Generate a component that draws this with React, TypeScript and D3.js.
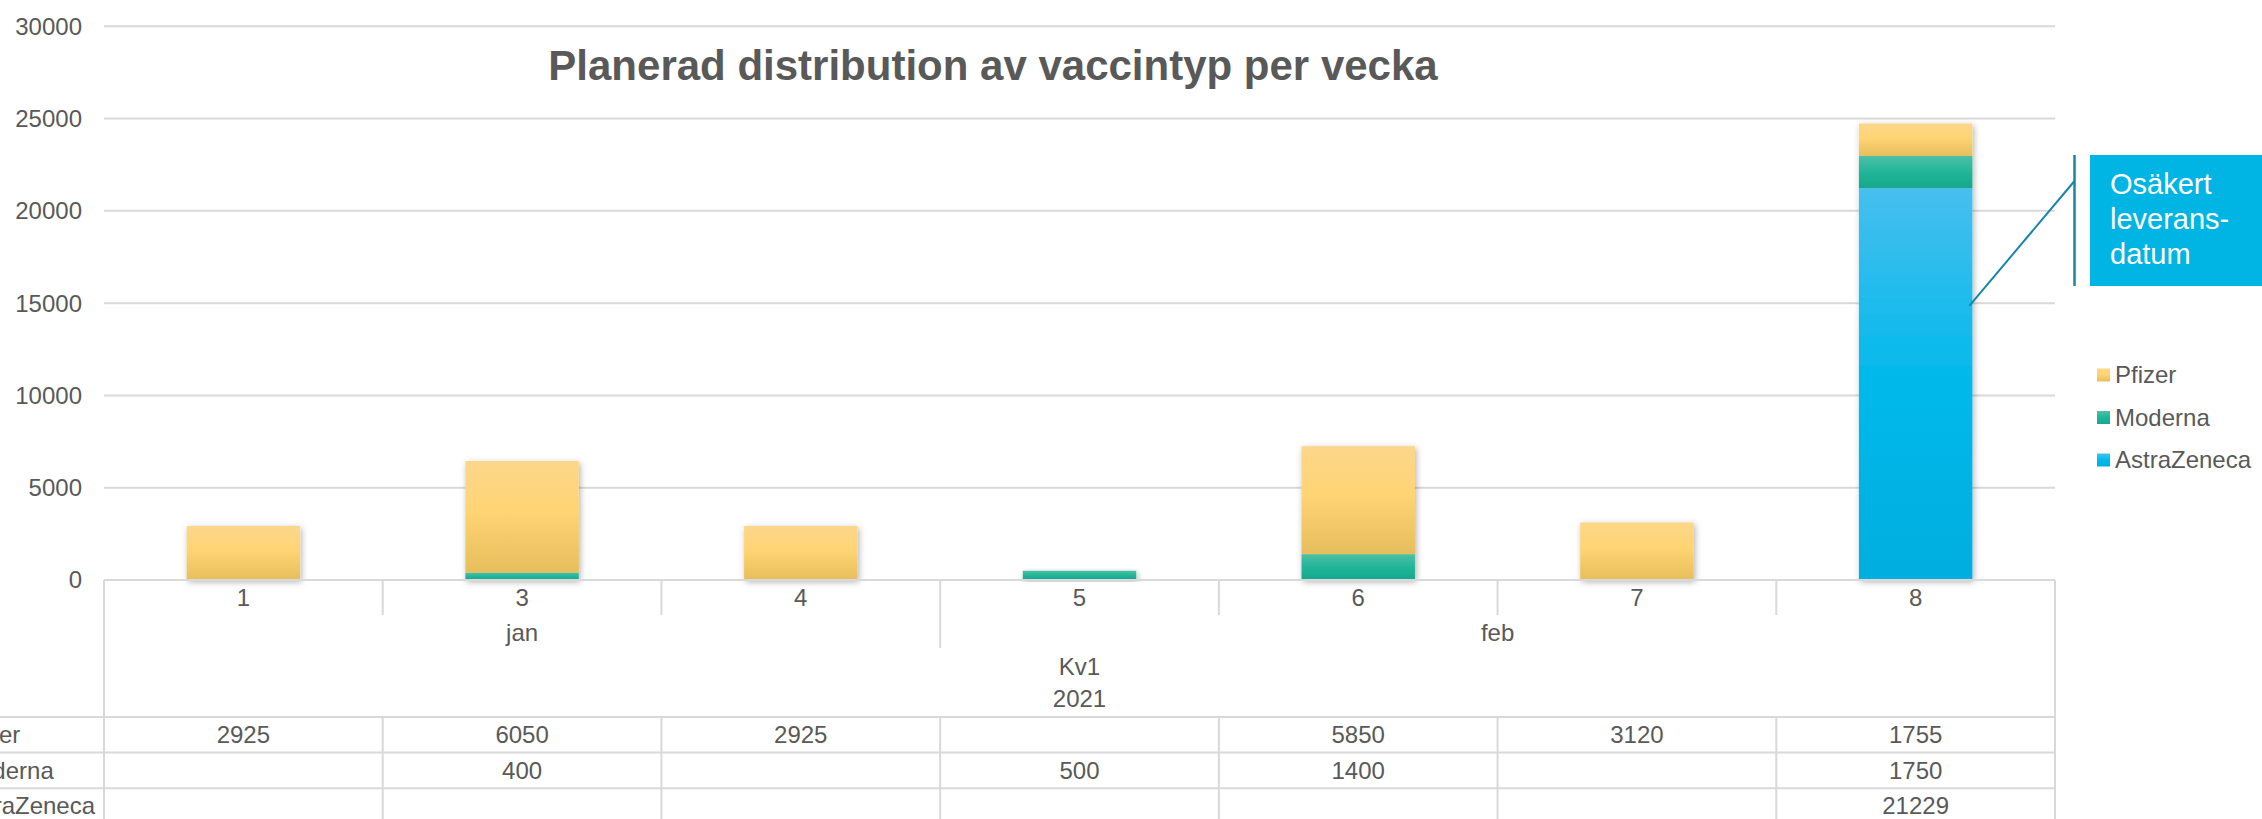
import React from 'react';
import * as d3 from 'd3';

const title = 'Planerad distribution av vaccintyp per vecka';
const weeks = ['1', '3', '4', '5', '6', '7', '8'];
const monthLabels = ['jan', 'feb'];
const monthSpans = [3, 4];
const quarterLabel = 'Kv1';
const yearLabel = '2021';
const seriesNames = ['Pfizer', 'Moderna', 'AstraZeneca'];
const pfizer = [2925, 6050, 2925, null, 5850, 3120, 1755];
const moderna = [null, 400, null, 500, 1400, null, 1750];
const astraZeneca = [null, null, null, null, null, null, 21229];
const yTicks = [0, 5000, 10000, 15000, 20000, 25000, 30000];
const calloutLines = ['Osäkert', 'leverans-', 'datum'];

const W = 2262;
const H = 819;
const textColor = '#595959';
const gridColor = '#D9D9D9';
const font = 'Arial, "Liberation Sans", sans-serif';

const gradients: Record<string, string[][]> = {
  Pfizer: [['0', '#FCD78B'], ['0.45', '#FFD473'], ['1', '#E6BE5C']],
  Moderna: [['0', '#4DC0A5'], ['0.5', '#22B599'], ['1', '#15A88C']],
  AstraZeneca: [['0', '#47BFEE'], ['0.5', '#00B9EB'], ['1', '#00AEDF']],
};

export default function App() {
  const left = 104;
  const right = 2055;
  const x = d3.scaleBand<string>().domain(weeks).range([left, right]).paddingInner(0.593).paddingOuter(0.2965);
  const y = d3.scaleLinear().domain([0, 30000]).range([580, 26.3]);
  const step = x.step();
  const colLeft = (i: number) => left + i * step;

  const rows = weeks.map((w, i) => ({
    week: w,
    Pfizer: pfizer[i] ?? 0,
    Moderna: moderna[i] ?? 0,
    AstraZeneca: astraZeneca[i] ?? 0,
  }));
  const stack = d3.stack<any>().keys(['AstraZeneca', 'Moderna', 'Pfizer']);
  const layers = stack(rows);
  const tableValues: Record<string, (number | null)[]> = {
    Pfizer: pfizer,
    Moderna: moderna,
    AstraZeneca: astraZeneca,
  };

  const baseY = y(0);
  const weekSepBottom = 615;
  const monthSepBottom = 648;
  const tableTop = 717;
  const rowH = 35.6;

  // month boundaries
  let acc = 0;
  const monthCells = monthLabels.map((m, i) => {
    const start = acc;
    acc += monthSpans[i];
    return { label: m, start, end: acc };
  });

  // callout geometry
  const barTopIdx = weeks.length - 1;
  const calloutTarget = { x: (x(weeks[barTopIdx]) ?? 0) + x.bandwidth() - 3, y: y(14850) };

  return (
    <svg width={W} height={H} style={{ position: 'absolute', left: 0, top: 0, background: '#fff' }} fontFamily={font}>
      <defs>
        {seriesNames.map((s) => (
          <linearGradient key={s} id={`g-${s}`} x1="0" y1="0" x2="0" y2="1">
            {gradients[s].map(([o, c]) => (
              <stop key={o} offset={o} stopColor={c} />
            ))}
          </linearGradient>
        ))}
        <filter id="shadow" x="-20%" y="-20%" width="140%" height="140%">
          <feDropShadow dx="1.5" dy="2" stdDeviation="3" floodColor="#000" floodOpacity="0.3" />
        </filter>
      </defs>

      {/* gridlines */}
      {yTicks.map((t) => (
        <g key={t}>
          {t > 0 && <line x1={left} x2={right} y1={y(t)} y2={y(t)} stroke={gridColor} strokeWidth={2} />}
          <text x={82} y={y(t)} dy="0.35em" textAnchor="end" fontSize={24} fill={textColor}>
            {t}
          </text>
        </g>
      ))}

      {/* title */}
      <text x={993} y={80} textAnchor="middle" fontSize={42} fontWeight="bold" fill={textColor}>
        {title}
      </text>

      {/* bars */}
      {weeks.map((w, i) => {
        const segs = layers.filter((l) => l[i][1] - l[i][0] > 0);
        if (!segs.length) return null;
        return (
          <g key={w} filter="url(#shadow)">
            {segs.map((l) => (
              <rect
                key={l.key}
                x={x(w)}
                width={x.bandwidth()}
                y={y(l[i][1])}
                height={y(l[i][0]) - y(l[i][1])}
                fill={`url(#g-${l.key})`}
              />
            ))}
          </g>
        );
      })}

      {/* table / category axis */}
      <g stroke={gridColor} strokeWidth={2}>
        <line x1={left} x2={right} y1={baseY} y2={baseY} />
        <line x1={left} x2={left} y1={baseY} y2={H + 5} />
        <line x1={right} x2={right} y1={baseY} y2={H + 5} />
        {weeks.slice(1).map((w, i) => {
          const xx = colLeft(i + 1);
          const isMonthBoundary = monthCells.some((m) => m.start === i + 1);
          return <line key={w} x1={xx} x2={xx} y1={baseY} y2={isMonthBoundary ? monthSepBottom : weekSepBottom} />;
        })}
        {[0, 1, 2, 3].map((r) => (
          <line key={r} x1={r === 0 ? -60 : -60} x2={right} y1={tableTop + r * rowH} y2={tableTop + r * rowH} />
        ))}
        {weeks.slice(1).map((w, i) => {
          const xx = colLeft(i + 1);
          return <line key={'d' + w} x1={xx} x2={xx} y1={tableTop} y2={H + 5} />;
        })}
      </g>

      {weeks.map((w) => (
        <text key={w} x={(x(w) ?? 0) + x.bandwidth() / 2} y={598} dy="0.35em" textAnchor="middle" fontSize={24} fill={textColor}>
          {w}
        </text>
      ))}
      {monthCells.map((m) => (
        <text key={m.label} x={(colLeft(m.start) + colLeft(m.end)) / 2} y={633} dy="0.35em" textAnchor="middle" fontSize={24} fill={textColor}>
          {m.label}
        </text>
      ))}
      <text x={(left + right) / 2} y={667} dy="0.35em" textAnchor="middle" fontSize={24} fill={textColor}>
        {quarterLabel}
      </text>
      <text x={(left + right) / 2} y={699} dy="0.35em" textAnchor="middle" fontSize={24} fill={textColor}>
        {yearLabel}
      </text>

      {seriesNames.map((s, r) => {
        const cy = tableTop + r * rowH + rowH / 2;
        return (
          <g key={s}>
            <text x={-41} y={cy} dy="0.35em" fontSize={24} fill={textColor}>
              {s}
            </text>
            {tableValues[s].map((v, i) =>
              v == null ? null : (
                <text key={i} x={(x(weeks[i]) ?? 0) + x.bandwidth() / 2} y={cy} dy="0.35em" textAnchor="middle" fontSize={24} fill={textColor}>
                  {v}
                </text>
              )
            )}
          </g>
        );
      })}

      {/* callout */}
      <rect x={2090} y={155} width={W - 2090 + 10} height={131} fill="#00B4E4" />
      <line x1={2074.5} x2={2074.5} y1={155} y2={286} stroke="#1786A4" strokeWidth={2.5} />
      <line x1={2074.5} y1={181} x2={calloutTarget.x} y2={calloutTarget.y} stroke="#1786A4" strokeWidth={2} />
      {calloutLines.map((t, i) => (
        <text key={t} x={2110} y={184 + i * 35} dy="0.35em" fontSize={29} fill="#fff">
          {t}
        </text>
      ))}

      {/* legend */}
      {seriesNames.map((s, i) => {
        const cy = 375 + i * 42.5;
        return (
          <g key={'lg' + s}>
            <rect x={2097} y={cy - 6.5} width={13} height={13} fill={`url(#g-${s})`} />
            <text x={2115} y={cy} dy="0.35em" fontSize={24} fill={textColor}>
              {s}
            </text>
          </g>
        );
      })}
    </svg>
  );
}
